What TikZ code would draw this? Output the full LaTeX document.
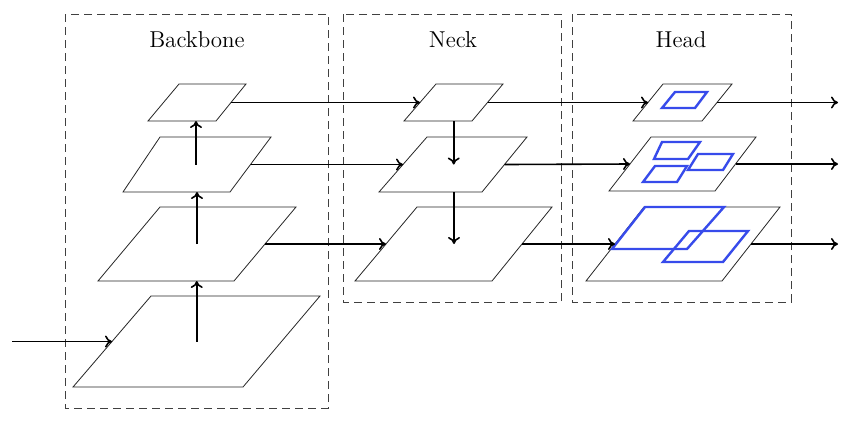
\documentclass[tikz,border=0pt]{standalone}
\usetikzlibrary{calc,arrows.meta}
\begin{document}
\begin{tikzpicture}[x=0.5pt,y=-0.5pt,
  para/.style={draw=black!85,line width=0.4pt,fill=white,line join=miter},
  grp/.style={draw=black!75,line width=0.5pt,dash pattern=on 4pt off 2.5pt},
  arr/.style={line width=0.8pt,-{To[length=3.5pt,width=6pt]}},
  det/.style={draw={rgb,255:red,55;green,75;blue,235},line width=1.2pt,line join=miter},
  lab/.style={font=\fontsize{11.5}{14}\selectfont}]
\useasboundingbox (0,0) rectangle (850,424);
\def\para#1#2#3#4#5#6#7{%
 \coordinate (#1-tl) at (#4,#2); \coordinate (#1-tr) at (#5,#2);
 \coordinate (#1-bl) at (#6,#3); \coordinate (#1-br) at (#7,#3);
 \draw[para] (#1-tl)--(#1-tr)--(#1-br)--(#1-bl)--cycle;
 \coordinate (#1-l) at ($(#1-tl)!0.5!(#1-bl)$);
 \coordinate (#1-r) at ($(#1-tr)!0.5!(#1-br)$);
 \coordinate (#1-c) at ($(#1-l)!0.5!(#1-r)$);
 \coordinate (#1-b) at ($(#1-bl)!0.5!(#1-br)$);}
% groups
\draw[grp] (65,14) rectangle (328,408);
\draw[grp] (343,14) rectangle (561,302);
\draw[grp] (572,14) rectangle (791,302);
\node[lab] (tb) at (197,40) {Backbone};
\node[lab] (tn) at (453,40) {Neck};
\node[lab] (th) at (681,40) {Head};
% backbone
\para{P1}{84}{121}{179}{246}{148}{216}
\para{P2}{137}{192}{160}{271}{123}{230}
\para{P3}{207}{281}{160}{296}{98}{234}
\para{P4}{296}{387}{151}{320}{73}{243}
% neck
\para{N1}{84}{121}{436}{503}{404}{472}
\para{N2}{137}{192}{427}{527}{379}{482}
\para{N3}{207}{281}{417}{552}{355}{492}
% head
\para{H1}{84}{121}{663}{732}{633}{702}
\para{H2}{137}{191}{651}{756}{609}{715}
\para{H3}{207}{281}{644}{780}{586}{722}
% detections
\draw[det] (675,92)--(707,92)--(695,108)--(662,108)--cycle;
\draw[det] (662,142)--(700,142)--(688,159)--(654,159)--cycle;
\draw[det] (698,154)--(733,154)--(723,170)--(688,170)--cycle;
\draw[det] (655,166)--(687,166)--(677,182)--(643,182)--cycle;
\draw[det] (645,207)--(724,207)--(687,249)--(612,249)--cycle;
\draw[det] (689,231)--(748,231)--(723,262)--(663,262)--cycle;
% input
\coordinate (in) at (12,0);
\draw[arr] (in |- P4-l) -- (P4-l);
% backbone up
\draw[arr] (P4-c) -- (P4-c |- P3-b);
\draw[arr] (P3-c) -- (P3-c |- P2-b);
\draw[arr] (P2-c) -- (P2-c |- P1-b);
% laterals
\draw[arr] (P1-r) -- (N1-l);
\draw[arr] (P2-r) -- (N2-l);
\draw[arr] (P3-r) -- (N3-l);
% neck down
\draw[arr] (N2-c |- N1-b) -- (N2-c);
\draw[arr] (N3-c |- N2-b) -- (N3-c);
% to head
\draw[arr] (N1-r) -- (H1-l);
\draw[arr] (N2-r) -- (H2-l);
\draw[arr] (N3-r) -- (H3-l);
% outputs
\coordinate (out) at (838,0);
\draw[arr] (H1-r) -- (out |- H1-r);
\draw[arr] (H2-r) -- (out |- H2-r);
\draw[arr] (H3-r) -- (out |- H3-r);
\end{tikzpicture}
\end{document}
